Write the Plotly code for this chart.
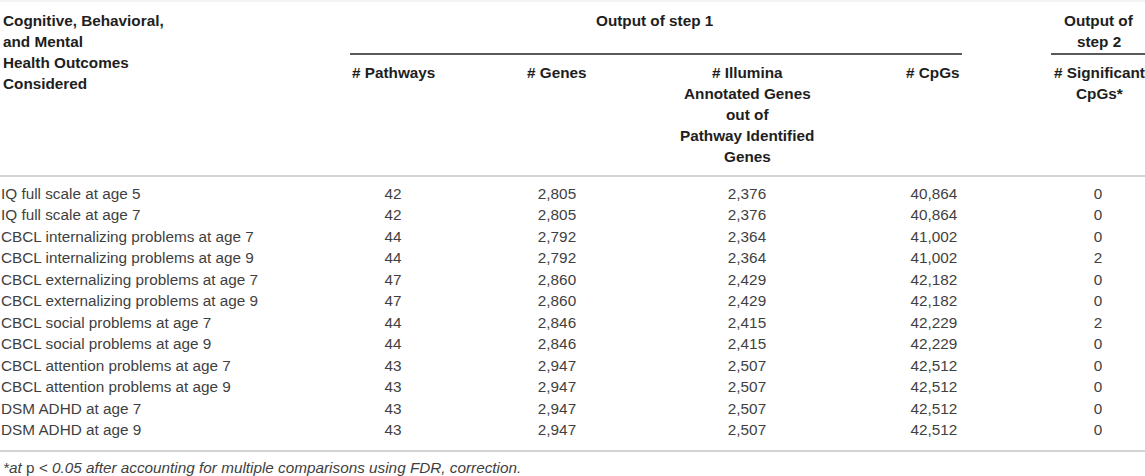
import plotly.graph_objects as go

# table contents
outcomes = [
    "IQ full scale at age 5",
    "IQ full scale at age 7",
    "CBCL internalizing problems at age 7",
    "CBCL internalizing problems at age 9",
    "CBCL externalizing problems at age 7",
    "CBCL externalizing problems at age 9",
    "CBCL social problems at age 7",
    "CBCL social problems at age 9",
    "CBCL attention problems at age 7",
    "CBCL attention problems at age 9",
    "DSM ADHD at age 7",
    "DSM ADHD at age 9",
]
pathways = [42, 42, 44, 44, 47, 47, 44, 44, 43, 43, 43, 43]
genes = [2805, 2805, 2792, 2792, 2860, 2860, 2846, 2846, 2947, 2947, 2947, 2947]
illumina_genes = [2376, 2376, 2364, 2364, 2429, 2429, 2415, 2415, 2507, 2507, 2507, 2507]
cpgs = [40864, 40864, 41002, 41002, 42182, 42182, 42229, 42229, 42512, 42512, 42512, 42512]
significant_cpgs = [0, 0, 0, 2, 0, 0, 2, 0, 0, 0, 0, 0]

first_col_header = ["Cognitive, Behavioral,", "and Mental", "Health Outcomes", "Considered"]
step1_header = ["Output of step 1"]
step2_header = ["Output of", "step 2"]
col_headers = [
    ["# Pathways"],
    ["# Genes"],
    ["# Illumina", "Annotated Genes", "out of", "Pathway Identified", "Genes"],
    ["# CpGs"],
    ["# Significant", "CpGs*"],
]
footnote = "<i>*at </i>p<i> < 0.05 after accounting for multiple comparisons using FDR, correction.</i>"

W, H = 1145, 476
FONT = "Liberation Sans, Arial, Helvetica, sans-serif"
BODY = "#3f3f3f"
HEAD = "#1e1e1e"
FS = 15.3

row_y0, row_step = 195, 21.5
row_y = [row_y0 + i * row_step for i in range(len(outcomes))]
col_x = [393, 557, 747, 934, 1098]
line_h = 21

fig = go.Figure()

# first column (left aligned)
fig.add_trace(go.Scatter(
    x=[1] * len(outcomes), y=row_y, text=outcomes, mode="text",
    textposition="middle right", textfont=dict(family=FONT, size=FS, color=BODY),
    hoverinfo="skip", showlegend=False,
))

# numeric columns
for xc, vals in zip(col_x, [pathways, genes, illumina_genes, cpgs, significant_cpgs]):
    fig.add_trace(go.Scatter(
        x=[xc] * len(vals), y=row_y, text=[f"{v:,}" for v in vals], mode="text",
        textposition="middle center", textfont=dict(family=FONT, size=FS, color=BODY),
        hoverinfo="skip", showlegend=False,
    ))

ann = []
hfont = dict(family=FONT, size=FS, color=HEAD)


def header(lines, x, y, anchor):
    for i, t in enumerate(lines):
        ann.append(dict(x=x, y=y + i * line_h, text="<b>" + t + "</b>", xanchor=anchor,
                        yanchor="middle", font=hfont, showarrow=False))


header(first_col_header, 1, 20, "left")
header(step1_header, 655, 20, "center")
header(step2_header, 1099, 20, "center")
header(col_headers[0], 350, 72, "left")
header(col_headers[1], 557, 72, "center")
header(col_headers[2], 747, 72, "center")
header(col_headers[3], 962, 72, "right")
header(col_headers[4], 1099, 72, "center")

ann.append(dict(x=1, y=467, text=footnote, xanchor="left", yanchor="middle",
                font=dict(family=FONT, size=FS, color=BODY), showarrow=False))

shapes = [
    dict(type="line", x0=0, x1=W, y0=1, y1=1, line=dict(color="#e6e6e6", width=1)),
    dict(type="line", x0=350, x1=962, y0=54, y1=54, line=dict(color="#222222", width=1.5)),
    dict(type="line", x0=1051, x1=W, y0=54, y1=54, line=dict(color="#222222", width=1.5)),
    dict(type="line", x0=0, x1=W, y0=176, y1=176, line=dict(color="#c4c4c4", width=1.5)),
    dict(type="line", x0=0, x1=W, y0=451, y1=451, line=dict(color="#c4c4c4", width=1.5)),
]

fig.update_layout(
    width=W, height=H, margin=dict(l=0, r=0, t=0, b=0),
    paper_bgcolor="white", plot_bgcolor="white",
    xaxis=dict(range=[0, W], visible=False, fixedrange=True),
    yaxis=dict(range=[H, 0], visible=False, fixedrange=True),
    annotations=ann, shapes=shapes,
)

fig.write_html(
    "out.html",
    config={"displayModeBar": False},
    post_script="document.body.style.margin='0';document.body.style.overflow='hidden';",
)
